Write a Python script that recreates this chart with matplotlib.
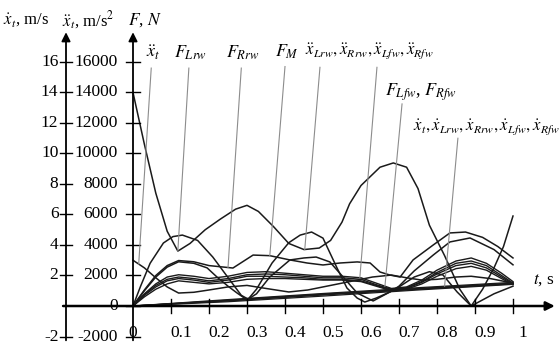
import numpy as np
import matplotlib.pyplot as plt
plt.rcParams.update({'font.family': 'Liberation Serif', 'mathtext.fontset': 'stix'})

# forces / accelerations (N, or N-scale for accelerations)
t_a = [0, 0.03, 0.06, 0.09, 0.118, 0.15, 0.19, 0.23, 0.27, 0.30, 0.33, 0.37, 0.41, 0.45, 0.49, 0.52,
       0.55, 0.57, 0.60, 0.65, 0.685, 0.72, 0.75, 0.78, 0.82, 0.86, 0.89, 0.92, 0.95, 0.975, 1.0]
f_a = [14000, 10600, 7400, 4900, 3600, 4100, 5000, 5700, 6350, 6600, 6200, 5200, 4100, 3700, 3800, 4300,
       5500, 6700, 7900, 9100, 9380, 9100, 7700, 5300, 3300, 1100, 0, 1100, 2500, 3900, 5900]

t_b = [0, 0.02, 0.045, 0.08, 0.105, 0.13, 0.17, 0.21, 0.255, 0.285, 0.303, 0.325, 0.366, 0.41, 0.44, 0.47,
       0.50, 0.537, 0.563, 0.59, 0.61, 0.64, 0.676, 0.70, 0.74, 0.78, 0.816, 0.853, 0.89, 0.95, 1.0]
f_b = [0, 1300, 2800, 4130, 4550, 4650, 4300, 3210, 1700, 700, 450, 1100, 2820, 4150, 4650, 4850,
       4450, 2490, 1180, 520, 260, 520, 920, 1250, 1900, 2250, 2030, 920, 0, 800, 1300]

t_c = [0, 0.03, 0.06, 0.09, 0.12, 0.16, 0.195, 0.221, 0.25, 0.274, 0.30, 0.325, 0.36, 0.413, 0.45, 0.482,
       0.518, 0.553, 0.59, 0.632, 0.676, 0.70, 0.74, 0.79, 0.834, 0.887, 0.95, 1.0]
f_c = [0, 1000, 1900, 2550, 2900, 2800, 2500, 1900, 1300, 850, 400, 800, 1900, 3020, 3150, 3210,
       2890, 1900, 850, 330, 920, 1300, 2300, 3340, 4200, 4460, 3700, 2700]

t_e = [0, 0.03, 0.06, 0.09, 0.12, 0.16, 0.2, 0.263, 0.316, 0.36, 0.413, 0.458, 0.5, 0.545, 0.59, 0.624,
       0.65, 0.676, 0.703, 0.737, 0.79, 0.834, 0.875, 0.92, 0.96, 1.0]
f_e = [0, 1050, 2000, 2650, 2980, 2900, 2650, 2490, 3340, 3300, 3020, 2820, 2690, 2820, 2890, 2820,
       2230, 2030, 1900, 3020, 4000, 4790, 4850, 4500, 3900, 3150]

t_g = [0, 0.03, 0.06, 0.09, 0.12, 0.16, 0.2, 0.25, 0.3, 0.35, 0.41, 0.46, 0.5, 0.55, 0.59, 0.63, 0.68,
       0.72, 0.76, 0.80, 0.85, 0.89, 0.94, 1.0]
f_g = [3000, 2500, 1850, 1250, 850, 900, 1050, 1250, 1350, 1150, 920, 1050, 1250, 1500, 1700, 1900, 2030,
       1850, 1700, 1750, 1900, 1950, 1800, 1500]

# wheel accelerations bundle
t_x = [0, 0.03, 0.06, 0.09, 0.12, 0.16, 0.2, 0.25, 0.3, 0.35, 0.4, 0.45, 0.5, 0.55, 0.6, 0.64, 0.68,
       0.72, 0.76, 0.8, 0.85, 0.89, 0.93, 0.97, 1.0]
acc_lrw = [0, 800, 1450, 1900, 2050, 1950, 1800, 1950, 2200, 2250, 2150, 2050, 1950, 1950, 1850, 1500, 1150,
           1250, 1700, 2350, 2950, 3150, 2800, 2150, 1600]
acc_rrw = [0, 750, 1350, 1750, 1900, 1800, 1650, 1800, 2050, 2100, 2050, 1950, 1850, 1850, 1750, 1400, 1100,
           1200, 1600, 2200, 2800, 2950, 2650, 2000, 1500]
acc_lfw = [0, 700, 1250, 1650, 1800, 1700, 1550, 1700, 1950, 1950, 1900, 1850, 1750, 1750, 1650, 1350, 1050,
           1150, 1550, 2100, 2650, 2800, 2500, 1900, 1450]
acc_rfw = [0, 600, 1100, 1450, 1650, 1550, 1450, 1550, 1750, 1800, 1800, 1750, 1700, 1700, 1600, 1300, 1000,
           1100, 1450, 1950, 2450, 2600, 2350, 1800, 1400]

# velocities (m/s shown on the N scale, 1 m/s = 1000)
t_v = [0, 0.25, 0.5, 0.75, 1.0]
vel_t = [0, 420, 820, 1200, 1550]
vel_lrw = [0, 380, 780, 1150, 1500]
vel_rrw = [0, 360, 750, 1120, 1470]
vel_lfw = [0, 330, 720, 1100, 1450]
vel_rfw = [0, 280, 650, 1050, 1420]

f_ticks = [-2000, 0, 2000, 4000, 6000, 8000, 10000, 12000, 14000, 16000]
v_ticks = [-2, 2, 4, 6, 8, 10, 12, 14, 16]
t_ticks = [0.1, 0.2, 0.3, 0.4, 0.5, 0.6, 0.7, 0.8, 0.9, 1.0]
t_labels = ['0.1', '0.2', '0.3', '0.4', '0.5', '0.6', '0.7', '0.8', '0.9', '1']

fig = plt.figure(figsize=(5.6, 3.45), dpi=100)
ax = fig.add_axes([0, 0, 1, 1])
ax.set_xlim(-0.35, 1.1237)
ax.set_ylim(-2557, 20064)
ax.axis('off')

ink = '#1a1a1a'
for tt, ff in [(t_a, f_a), (t_b, f_b), (t_c, f_c), (t_e, f_e), (t_g, f_g)]:
    ax.plot(tt, ff, color=ink, lw=1.1)
for ff in [acc_lrw, acc_rrw, acc_lfw, acc_rfw]:
    ax.plot(t_x, ff, color=ink, lw=1.0)
for ff in [vel_t, vel_lrw, vel_rrw, vel_lfw, vel_rfw]:
    ax.plot(t_v, ff, color=ink, lw=0.9)

# axes drawn by hand
xv = -0.1763
arrow = dict(arrowstyle='-|>', color='black', lw=1.3, mutation_scale=13, shrinkA=0, shrinkB=0)
ax.annotate('', xy=(1.11, 0), xytext=(-0.184, 0), arrowprops=dict(arrow, lw=1.8))
ax.annotate('', xy=(xv, 17950), xytext=(xv, -2250), arrowprops=arrow)
ax.annotate('', xy=(0, 17950), xytext=(0, -2250), arrowprops=arrow)

for f in f_ticks:
    ax.plot([-0.018, 0.018], [f, f], color='black', lw=1.0)
    ax.text(-0.04, f, str(f), ha='right', va='center', fontsize=12.5)
for v in v_ticks:
    ax.plot([xv - 0.015, xv + 0.015], [v * 1000, v * 1000], color='black', lw=1.0)
    ax.text(xv - 0.02, v * 1000, str(v), ha='right', va='center', fontsize=12.5)
for tk, lab in zip(t_ticks, t_labels):
    ax.plot([tk, tk], [-430, 430], color='black', lw=1.0)
    ax.text(tk + 0.026, -1750, lab, ha='center', va='center', fontsize=12.5)
ax.text(0, -1750, '0', ha='center', va='center', fontsize=12.5)
ax.text(1.08, 1700, '$t$, s', ha='center', va='center', fontsize=12.5)

ax.text(-0.342, 18750, r'$\dot{x}_t$, m/s', ha='left', va='center', fontsize=12)
ax.text(-0.187, 18750, r'$\ddot{x}_t$, m/s$^2$', ha='left', va='center', fontsize=12)
ax.text(-0.013, 18750, '$F$, $N$', ha='left', va='center', fontsize=12.5)

# curve labels with gray leader lines
labels = [
    (r'$\ddot{x}_t$', 0.053, 16600, 0.015, t_g, f_g, 13),
    (r'$F_{Lrw}$', 0.152, 16600, 0.118, t_a, f_a, 13),
    (r'$F_{Rrw}$', 0.29, 16600, 0.25, t_e, f_e, 13),
    (r'$F_M$', 0.405, 16700, 0.36, t_e, f_e, 13),
]
for txt, lx, ly, te, tt, ff, fs in labels:
    ax.text(lx, ly, txt, ha='center', va='center', fontsize=fs)
    ax.plot([lx - 0.005, te], [ly - 1000, np.interp(te, tt, ff)], color='0.55', lw=0.8)

ax.text(0.623, 16700, r'$\ddot{x}_{Lrw}, \ddot{x}_{Rrw}, \ddot{x}_{Lfw}, \ddot{x}_{Rfw}$',
        ha='center', va='center', fontsize=12)
ax.plot([0.492, 0.452], [15650, np.interp(0.452, t_a, f_a)], color='0.55', lw=0.8)
ax.plot([0.642, 0.597], [15650, np.interp(0.597, t_x, acc_lrw)], color='0.55', lw=0.8)

ax.text(0.758, 14000, r'$F_{Lfw}$, $F_{Rfw}$', ha='center', va='center', fontsize=13)
ax.plot([0.708, 0.663], [13250, np.interp(0.663, t_x, acc_lrw)], color='0.55', lw=0.8)

ax.text(0.93, 11700, r'$\dot{x}_t, \dot{x}_{Lrw}, \dot{x}_{Rrw}, \dot{x}_{Lfw}, \dot{x}_{Rfw}$',
        ha='center', va='center', fontsize=12)
ax.plot([0.855, 0.82], [11000, np.interp(0.82, t_v, vel_t)], color='0.55', lw=0.8)

fig.savefig('out.png', dpi=100)
